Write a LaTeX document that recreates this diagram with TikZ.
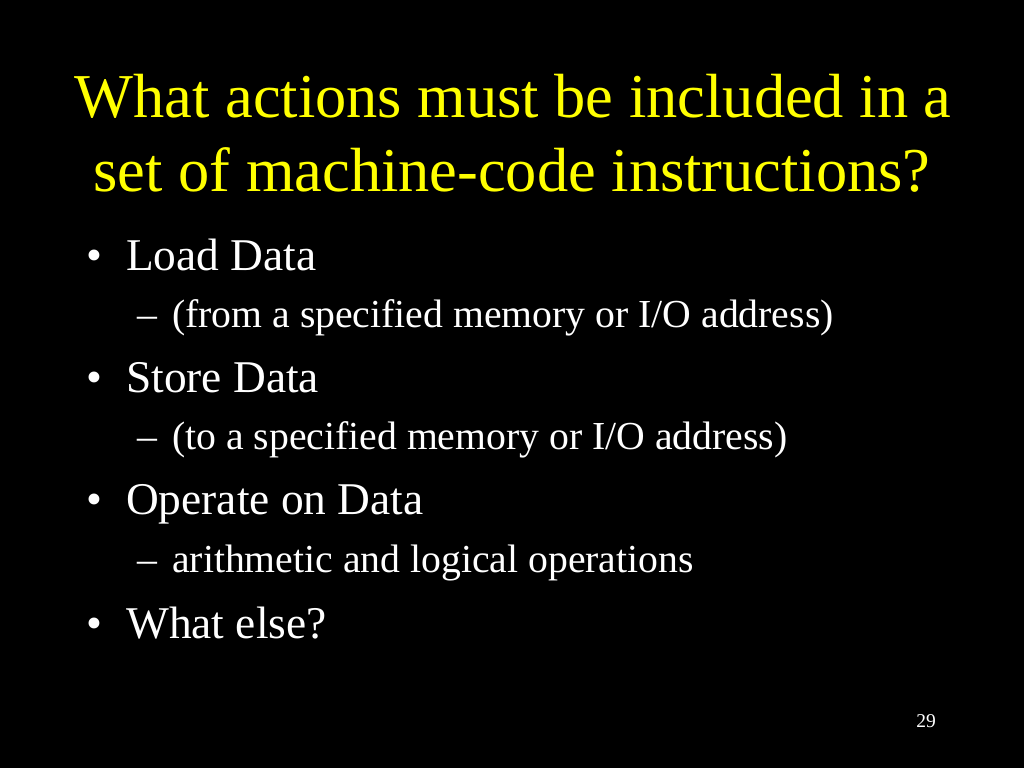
\documentclass[tikz,border=0pt]{standalone}
\usepackage{fontspec}
\setmainfont{Liberation Serif}
\definecolor{titleyellow}{RGB}{255,255,0}
\tikzset{
  titletext/.style={text=titleyellow, font=\fontsize{62.4}{74}\selectfont, anchor=base, inner sep=0pt},
  lvlone/.style={text=white, font=\fontsize{45.4}{50}\selectfont, anchor=base west, inner sep=0pt},
  lvltwo/.style={text=white, font=\fontsize{39.7}{44}\selectfont, anchor=base west, inner sep=0pt},
  pagenum/.style={text=white, font=\fontsize{19.5}{22}\selectfont, anchor=base, inner sep=0pt}
}
\begin{document}
\begin{tikzpicture}[x=1pt,y=1pt]
\fill[black] (0,0) rectangle (1024,768);
\useasboundingbox (0,0) rectangle (1024,768);
\node[titletext] (t1) at (513,768-118) {What actions must be included in a};
\node[titletext] (t2) at (512,768-192) {set of machine-code instructions?};
% bullets
\node[lvlone] (b1m) at (86,768-271) {•};
\node[lvlone] (b1) at (126,768-271) {Load Data};
\node[lvltwo] (s1m) at (137,768-328) {–};
\node[lvltwo] (s1) at (172,768-328) {(from a specified memory or I/O address)};
\node[lvlone] (b2m) at (86,768-393) {•};
\node[lvlone] (b2) at (126,768-393) {Store Data};
\node[lvltwo] (s2m) at (137,768-450) {–};
\node[lvltwo] (s2) at (172,768-450) {(to a specified memory or I/O address)};
\node[lvlone] (b3m) at (86,768-515) {•};
\node[lvlone] (b3) at (126,768-515) {Operate on Data};
\node[lvltwo] (s3m) at (137,768-573) {–};
\node[lvltwo] (s3) at (172,768-573) {arithmetic and logical operations};
\node[lvlone] (b4m) at (86,768-638) {•};
\node[lvlone] (b4) at (126,768-638) {What else?};
\node[pagenum] (pn) at (926,768-727) {29};
\end{tikzpicture}
\end{document}
